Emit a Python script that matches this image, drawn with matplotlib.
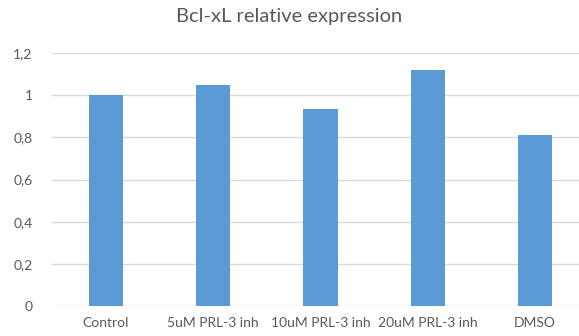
import matplotlib
matplotlib.use("Agg")
import matplotlib.pyplot as plt

categories = ["Control", "5uM PRL-3 inh", "10uM PRL-3 inh", "20uM PRL-3 inh", "DMSO"]
values = [1.0, 1.05, 0.935, 1.12, 0.81]
yticks = [0, 0.2, 0.4, 0.6, 0.8, 1.0, 1.2]
ytick_labels = ["0", "0,2", "0,4", "0,6", "0,8", "1", "1,2"]

plt.rcParams["font.family"] = ["Lato", "DejaVu Sans"]
TEXT = "#595959"

fig = plt.figure(figsize=(5.79, 3.36), dpi=100)
ax = fig.add_axes([0.090, 0.089, 0.927, 0.753])

x = list(range(len(categories)))
ax.bar(x, values, width=0.32, color="#5B9BD5", zorder=3)

ax.set_xlim(-0.5, len(categories) - 0.5)
ax.set_ylim(0, 1.2)
ax.set_yticks(yticks)
ax.set_yticklabels(ytick_labels)
ax.set_xticks(x)
ax.set_xticklabels(categories)
ax.yaxis.grid(True, color="#D9D9D9", linewidth=1, zorder=0)
for s in ax.spines.values():
    s.set_visible(False)
ax.tick_params(axis="both", length=0, colors=TEXT, labelsize=10)
ax.tick_params(axis="y", pad=14)
ax.tick_params(axis="x", pad=8)

fig.text(0.5, 0.95, "Bcl-xL relative expression", ha="center", va="center",
         fontsize=14.5, color=TEXT)

fig.savefig("out.png", dpi=100)
